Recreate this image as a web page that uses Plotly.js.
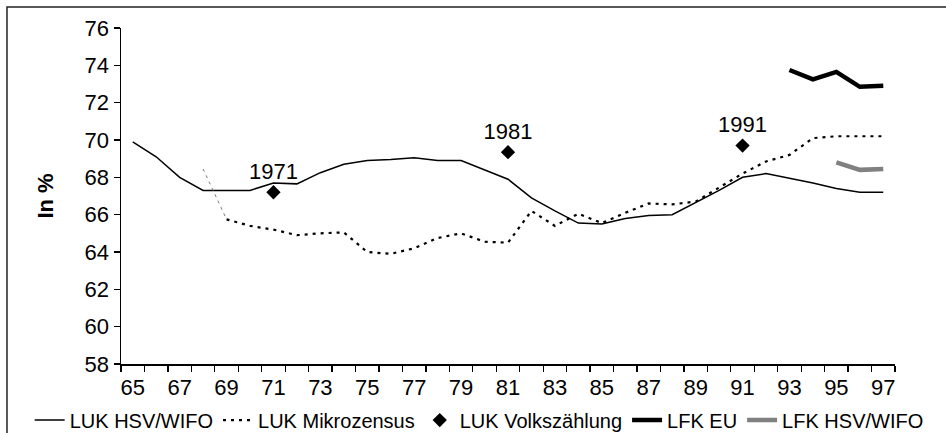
<!DOCTYPE html>
<html>
<head>
<meta charset="utf-8">
<script src="https://cdn.plot.ly/plotly-3.0.1.min.js"></script>
<style>html,body{margin:0;padding:0;background:#fff;}#chart{width:946px;height:433px;}</style>
</head>
<body>
<div id="chart"></div>
<script>
// Data
const hsvYears = [65,66,67,68,69,70,71,72,73,74,75,76,77,78,79,80,81,82,83,84,85,86,87,88,89,90,91,92,93,94,95,96,97];
const hsvValues = [69.9,69.1,68.0,67.3,67.3,67.3,67.7,67.65,68.25,68.7,68.9,68.95,69.05,68.9,68.9,68.4,67.9,66.9,66.2,65.55,65.5,65.8,65.95,66.0,66.65,67.3,68.0,68.2,67.95,67.7,67.4,67.2,67.2];
const mikroYears = [68,69,70,71,72,73,74,75,76,77,78,79,80,81,82,83,84,85,86,87,88,89,90,91,92,93,94,95,96,97];
const mikroValues = [68.45,65.75,65.4,65.2,64.9,65.0,65.05,64.0,63.9,64.2,64.75,65.0,64.55,64.5,66.2,65.4,66.05,65.55,66.1,66.6,66.55,66.7,67.45,68.2,68.85,69.2,70.1,70.2,70.2,70.2];
const vzYears = [71,81,91];
const vzValues = [67.2,69.35,69.7];
const vzLabels = ['1971','1981','1991'];
const lfkEuYears = [93,94,95,96,97];
const lfkEuValues = [73.75,73.25,73.65,72.85,72.9];
const lfkHsvYears = [95,96,97];
const lfkHsvValues = [68.8,68.4,68.45];
const xTickVals = [65,67,69,71,73,75,77,79,81,83,85,87,89,91,93,95,97];

const FONT = 'Liberation Sans, Arial, sans-serif';

const traces = [
  {x: hsvYears, y: hsvValues, type: 'scatter', mode: 'lines', name: 'LUK HSV/WIFO',
   line: {color: '#000', width: 1.5}},
  {x: mikroYears.slice(0,2), y: mikroValues.slice(0,2), type: 'scatter', mode: 'lines', showlegend: false,
   line: {color: '#777', width: 1, dash: '3px,4px'}, hoverinfo: 'skip'},
  {x: mikroYears.slice(1), y: mikroValues.slice(1), type: 'scatter', mode: 'lines', name: 'LUK Mikrozensus',
   line: {color: '#000', width: 2.2, dash: '3px,5px'}},
  {x: vzYears, y: vzValues, text: vzLabels, type: 'scatter', mode: 'markers+text', name: 'LUK Volkszählung',
   textposition: 'top center', textfont: {family: FONT, size: 22, color: '#000'},
   marker: {symbol: 'diamond', size: 11, color: '#000'}},
  {x: lfkEuYears, y: lfkEuValues, type: 'scatter', mode: 'lines', name: 'LFK EU',
   line: {color: '#000', width: 4.5}},
  {x: lfkHsvYears, y: lfkHsvValues, type: 'scatter', mode: 'lines', name: 'LFK HSV/WIFO',
   line: {color: '#808080', width: 4.5}}
];

const layout = {
  width: 946, height: 433,
  margin: {l: 121, r: 51, t: 28, b: 69, autoexpand: false},
  paper_bgcolor: '#fff', plot_bgcolor: '#fff',
  font: {family: FONT, size: 22, color: '#000'},
  showlegend: true,
  legend: {orientation: 'h', x: -0.118, xanchor: 'left', y: -0.167, yanchor: 'middle',
           font: {family: FONT, size: 20, color: '#000'}, itemwidth: 30, tracegroupgap: 0,
           bgcolor: 'rgba(0,0,0,0)'},
  xaxis: {
    range: [64.5, 97.5], showgrid: false, zeroline: false,
    tickvals: xTickVals, ticks: '', showline: true, linecolor: '#000', linewidth: 1.5,
    ticklabelstandoff: 3,
    tickfont: {family: FONT, size: 22, color: '#000'},
    minor: {ticks: 'outside', tick0: 64.5, dtick: 1, ticklen: 6, tickcolor: '#000', tickwidth: 1.3, showgrid: false}
  },
  yaxis: {
    range: [58, 76], dtick: 2, tick0: 58, showgrid: false, zeroline: false,
    ticks: 'outside', ticklen: 6, tickcolor: '#000', tickwidth: 1.3,
    showline: true, linecolor: '#000', linewidth: 1.5,
    tickfont: {family: FONT, size: 22, color: '#000'},
    title: {text: '<b>In %</b>', font: {family: FONT, size: 22, color: '#000'}, standoff: 25}
  },
  shapes: [
    {type: 'rect', xref: 'paper', yref: 'paper', x0: -0.1473, x1: 1.2, y0: -0.5, y1: 1.0625,
     line: {color: '#222', width: 1.5}, fillcolor: 'rgba(0,0,0,0)', layer: 'below'}
  ]
};

Plotly.newPlot('chart', traces, layout, {displayModeBar: false, staticPlot: true});
</script>
</body>
</html>
